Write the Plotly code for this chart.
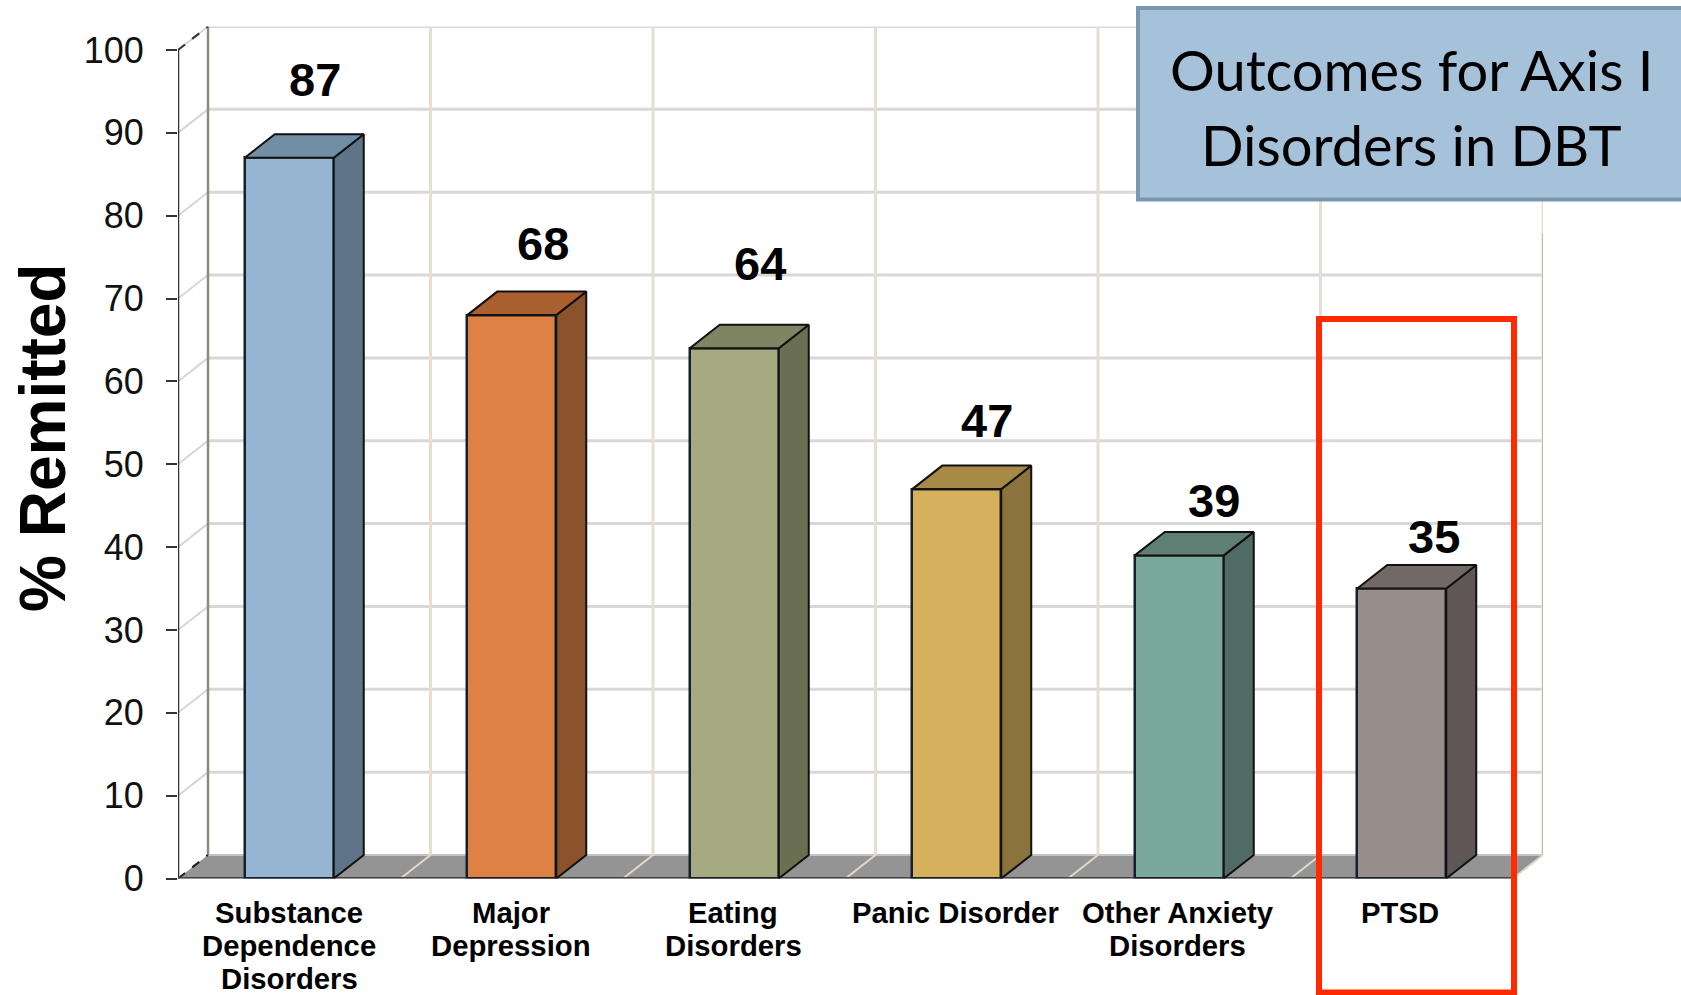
import plotly.graph_objects as go

# Chart data
categories = [
    ["Substance", "Dependence", "Disorders"],
    ["Major", "Depression"],
    ["Eating", "Disorders"],
    ["Panic Disorder"],
    ["Other Anxiety", "Disorders"],
    ["PTSD"],
]
remitted = [87, 68, 64, 47, 39, 35]
y_ticks = [0, 10, 20, 30, 40, 50, 60, 70, 80, 90, 100]

front_colors = ["#95b5d2", "#de8145", "#a5aa80", "#d6b05c", "#7ba89c", "#988d8b"]
side_colors = ["#5f7389", "#8c522c", "#6b6f52", "#8a733c", "#4f6b64", "#5e5755"]
top_colors = ["#708ea5", "#a9602e", "#7f8463", "#a78a45", "#5f7f75", "#726966"]

# Page and plot-box geometry in pixels
W, H = 1681, 995
X0_PX, X1_PX = 178.0, 1513.0   # front plane, left and right
Y0_PX, Y100_PX = 878.5, 50.0   # front plane, value 0 and value 100
DEPTH_X_PX, DEPTH_Y_PX = 30.0, 23.5

n = len(categories)
px_per_cat = (X1_PX - X0_PX) / n
px_per_unit = (Y0_PX - Y100_PX) / 100
dx = DEPTH_X_PX / px_per_cat
dy = DEPTH_Y_PX / px_per_unit
BAR_WIDTH = 0.4
centers = [i + 0.5 for i in range(n)]

# Small nudges of the value labels relative to the bar centre and bar top
label_dx = [26, 31, 26, 30, 35, 32]
label_dy = [78, 72, 85, 69, 55, 52]

shapes = []


def seg(x0, y0, x1, y1, color, width, dash="solid"):
    shapes.append(dict(type="line", xref="x", yref="y", x0=x0, y0=y0, x1=x1, y1=y1,
                       layer="below", line=dict(color=color, width=width, dash=dash)))


# Floor of the 3D box
shapes.append(dict(
    type="path", xref="x", yref="y", layer="below",
    path=f"M 0 0 L {n} 0 L {n + dx} {dy} L {dx} {dy} Z",
    fillcolor="#949494", line=dict(width=0),
))
seg(dx, dy, n + dx, dy, "#c4c4c4", 2)

# Back wall and side wall grid
for v in y_ticks[1:]:
    seg(dx, v + dy, n + dx, v + dy, "#d8d8d8", 3)
    seg(0, v, dx, v + dy, "#d6d6d6", 2)
for k in range(1, n + 1):
    seg(k + dx, dy, k + dx, 100 + dy, "#e6dfcf", 3)
    seg(k, 0, k + dx, dy, "#e2dac8", 2)
seg(n + dx, dy, n + dx, 75 + dy, "#bdbab0", 2)
seg(dx, dy, dx, 100 + dy, "#8f8a7d", 2.5)

# Dashed edges of the side wall, the value axis and the floor front edge
seg(0, 0, dx, dy, "#222222", 2, "dash")
seg(0, 100, dx, 100 + dy, "#333333", 2, "dash")
seg(0, 0, 0, 100, "#333333", 2.5)
seg(0, 0, n, 0, "#444444", 3)

fig = go.Figure()

# Front faces of the columns
fig.add_trace(go.Bar(
    x=centers, y=remitted, width=BAR_WIDTH,
    marker=dict(color=front_colors, line=dict(color="#15202b", width=2.5)),
    cliponaxis=False, hoverinfo="skip", showlegend=False,
))

# Side and top faces derived from each column's value
for c, v, side, top in zip(centers, remitted, side_colors, top_colors):
    right = c + BAR_WIDTH / 2
    left = c - BAR_WIDTH / 2
    fig.add_trace(go.Scatter(
        x=[right, right + dx, right + dx, right, right],
        y=[0, dy, v + dy, v, 0],
        mode="lines", fill="toself", fillcolor=side,
        line=dict(color="#111111", width=2),
        cliponaxis=False, hoverinfo="skip", showlegend=False,
    ))
    fig.add_trace(go.Scatter(
        x=[left, left + dx, right + dx, right, left],
        y=[v, v + dy, v + dy, v, v],
        mode="lines", fill="toself", fillcolor=top,
        line=dict(color="#111111", width=2),
        cliponaxis=False, hoverinfo="skip", showlegend=False,
    ))

annotations = []

# Value labels above the columns
for c, v, sx, sy in zip(centers, remitted, label_dx, label_dy):
    annotations.append(dict(
        x=c, y=v, xref="x", yref="y", xshift=sx, yshift=sy, text=f"<b>{v}</b>",
        showarrow=False, xanchor="center", yanchor="middle",
        font=dict(family="Liberation Sans", size=47, color="#000000"),
    ))

# Category labels, one annotation per line to keep the tight line spacing
for j, (c, lines) in enumerate(zip(centers, categories)):
    for i, line in enumerate(lines):
        annotations.append(dict(
            x=c, y=0, xref="x", yref="y", xshift=-0.4 * j, yshift=-(33.5 + 33.4 * i),
            text=f"<b>{line}</b>", showarrow=False, xanchor="center", yanchor="middle",
            font=dict(family="Liberation Sans", size=29.3, color="#000000"),
        ))

# Value axis title
annotations.append(dict(
    x=43 / W, y=1 - 438 / H, xref="paper", yref="paper", textangle=-90,
    text="<b>% Remitted</b>", showarrow=False, xanchor="center", yanchor="middle",
    font=dict(family="Liberation Sans", size=64, color="#000000"),
))

# Title box in the upper right corner
shapes.append(dict(
    type="rect", xref="paper", yref="paper", layer="above",
    x0=1138 / W, x1=1690 / W, y0=1 - 199.5 / H, y1=1 - 8 / H,
    fillcolor="#a5c2da", line=dict(color="#7a97ad", width=4),
))
for text, ypx in [("Outcomes for Axis I", 70), ("Disorders in DBT", 144)]:
    annotations.append(dict(
        x=1411 / W, y=1 - ypx / H, xref="paper", yref="paper", text=text,
        showarrow=False, xanchor="center", yanchor="middle",
        font=dict(family="Lato", size=56, color="#000000"),
    ))

# Red highlight around the last category
shapes.append(dict(
    type="rect", xref="paper", yref="paper", layer="above",
    x0=1319 / W, x1=1514 / W, y0=1 - 992.5 / H, y1=1 - 319 / H,
    line=dict(color="#ff2a00", width=6),
))

fig.update_layout(
    width=W, height=H, autosize=False,
    margin=dict(l=0, r=0, t=0, b=0, autoexpand=False),
    paper_bgcolor="#ffffff", plot_bgcolor="#ffffff",
    bargap=0, showlegend=False,
    shapes=shapes, annotations=annotations,
    xaxis=dict(
        domain=[X0_PX / W, (X1_PX + DEPTH_X_PX) / W],
        range=[0, n + dx], automargin=False,
        showgrid=False, zeroline=False, showline=False,
        showticklabels=False, ticks="",
    ),
    yaxis=dict(
        domain=[1 - Y0_PX / H, 1 - (Y100_PX - DEPTH_Y_PX) / H],
        range=[0, 100 + dy], automargin=False,
        tickvals=y_ticks, ticktext=[str(t) for t in y_ticks],
        ticks="outside", ticklen=11, tickwidth=2, tickcolor="#333333",
        ticklabelstandoff=15,
        tickfont=dict(family="Liberation Sans", size=36, color="#111111"),
        showgrid=False, zeroline=False, showline=False,
    ),
)

fig.write_html("out.html")
